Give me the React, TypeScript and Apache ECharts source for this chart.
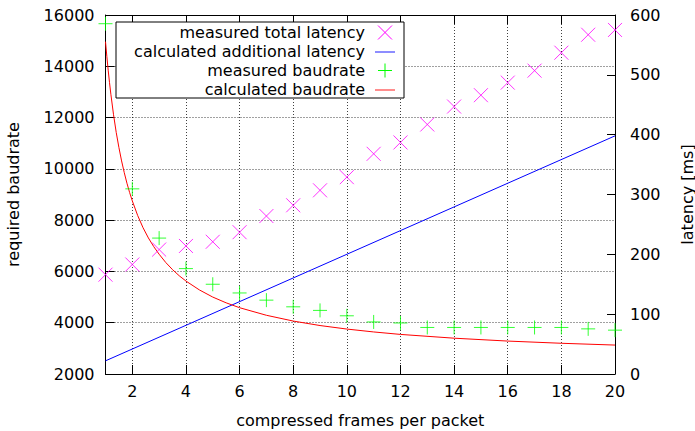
import React, { useEffect, useRef } from "react";
import * as echarts from "echarts";

const xTickValues = [2, 4, 6, 8, 10, 12, 14, 16, 18, 20];
const frames = [1, 2, 3, 4, 5, 6, 7, 8, 9, 10, 11, 12, 13, 14, 15, 16, 17, 18, 19, 20];
const measuredLatency = [166, 183, 208, 214, 221, 237, 264, 282, 307, 329, 368, 387, 417, 447, 466, 487, 507, 537, 567, 575];
const measuredBaudrate = [15660, 9220, 7300, 6110, 5500, 5160, 4880, 4620, 4480, 4270, 4030, 3990, 3815, 3815, 3815, 3815, 3815, 3815, 3760, 3710];
const calcLatencyX = [1, 20];
const calcLatency = [22, 398];
const calcBaudX = [1, 1.05, 1.1, 1.15, 1.2, 1.3, 1.4, 1.5, 1.6, 1.7, 1.8, 1.9, 2, 2.2, 2.4, 2.6, 2.8, 3, 3.25, 3.5, 3.75, 4, 4.5, 5, 5.5, 6, 7, 8, 9, 10, 11, 12, 14, 16, 18, 20];
const calcBaud = [14960, 14390, 13850, 13360, 12910, 12110, 11420, 10830, 10310, 9850, 9440, 9075, 8750, 8180, 7705, 7305, 6965, 6670, 6345, 6070, 5830, 5625, 5280, 5000, 4775, 4585, 4290, 4065, 3890, 3753, 3640, 3544, 3396, 3284, 3198, 3128];

const legendNames = [
  "measured total latency",
  "calculated additional latency",
  "measured baudrate",
  "calculated baudrate",
];

const MAGENTA = "#ff00ff";
const BLUE = "#0000ff";
const GREEN = "#00ff00";
const RED = "#ff0000";
const FONT = "DejaVu Sans";

const X_PATH = "path://M0,0L10,10M10,0L0,10";
const PLUS_PATH = "path://M0,5L10,5M5,0L5,10";

export default function App() {
  const ref = useRef<HTMLDivElement>(null);

  useEffect(() => {
    if (!ref.current) return;
    const chart = echarts.init(ref.current, undefined, { renderer: "svg" });

    const gridLine = { show: true, lineStyle: { color: "#000", opacity: 0.75, width: 1, type: [1, 2] as any } };
    const axisLine = { show: true, lineStyle: { color: "#000", width: 1 } };

    const legX = 116, legY = 22, legW = 288, legH = 76;
    const rowY = [32.5, 51.5, 70.5, 89.5];
    const lineRowY = [32, 52, 71, 90];
    const textRight = 365;
    const iconL = 375, iconR = 395, iconC = 385, half = 7;

    const graphics: any[] = [
      {
        type: "rect",
        z: 100,
        shape: { x: legX, y: legY, width: legW, height: legH },
        style: { fill: "#fff", stroke: "#000", lineWidth: 1 },
      },
    ];
    legendNames.forEach((name, i) => {
      graphics.push({
        type: "text",
        z: 101,
        x: textRight,
        y: rowY[i],
        style: { text: name, font: `16px "${FONT}"`, fill: "#000", align: "right", verticalAlign: "middle" },
      });
    });
    graphics.push(
      { type: "line", z: 101, shape: { x1: iconC - half, y1: rowY[0] - half, x2: iconC + half, y2: rowY[0] + half }, style: { stroke: MAGENTA, lineWidth: 1 } },
      { type: "line", z: 101, shape: { x1: iconC - half, y1: rowY[0] + half, x2: iconC + half, y2: rowY[0] - half }, style: { stroke: MAGENTA, lineWidth: 1 } },
      { type: "line", z: 101, shape: { x1: iconL, y1: lineRowY[1], x2: iconR, y2: lineRowY[1] }, style: { stroke: BLUE, lineWidth: 1.5, opacity: 0.6 } },
      { type: "line", z: 101, shape: { x1: iconC - half, y1: rowY[2], x2: iconC + half, y2: rowY[2] }, style: { stroke: GREEN, lineWidth: 1 } },
      { type: "line", z: 101, shape: { x1: iconC, y1: rowY[2] - half, x2: iconC, y2: rowY[2] + half }, style: { stroke: GREEN, lineWidth: 1 } },
      { type: "line", z: 101, shape: { x1: iconL, y1: lineRowY[3], x2: iconR, y2: lineRowY[3] }, style: { stroke: RED, lineWidth: 1.5, opacity: 0.6 } }
    );

    chart.setOption({
      animation: false,
      backgroundColor: "#fff",
      textStyle: { fontFamily: FONT, fontSize: 16, color: "#000" },
      grid: { left: 105.5, right: 80, top: 15, bottom: 57, outerBoundsMode: "none", containLabel: false },
      xAxis: [
        {
          type: "value",
          min: 1,
          max: 20,
          position: "bottom",
          name: "compressed frames per packet",
          nameLocation: "middle",
          nameGap: 38,
          nameTextStyle: { fontFamily: FONT, fontSize: 16, color: "#000" },
          axisLine,
          axisTick: { show: true, inside: true, length: 9, customValues: xTickValues, lineStyle: { color: "#000" } },
          axisLabel: { customValues: xTickValues, margin: 9, fontFamily: FONT, fontSize: 16, color: "#000" },
          splitLine: gridLine,
        },
        {
          type: "value",
          min: 1,
          max: 20,
          position: "top",
          axisLine,
          axisTick: { show: true, inside: true, length: 9, customValues: xTickValues, lineStyle: { color: "#000" } },
          axisLabel: { show: false, customValues: xTickValues },
          splitLine: { show: false },
        },
      ],
      yAxis: [
        {
          type: "value",
          min: 2000,
          max: 16000,
          interval: 2000,
          position: "left",
          name: "required baudrate",
          nameLocation: "middle",
          nameGap: 84,
          nameTextStyle: { fontFamily: FONT, fontSize: 16, color: "#000" },
          axisLine,
          axisTick: { show: true, inside: true, length: 9, lineStyle: { color: "#000" } },
          axisLabel: { margin: 11, fontFamily: FONT, fontSize: 16, color: "#000", formatter: (v: number) => String(v) },
          splitLine: gridLine,
        },
        {
          type: "value",
          min: 0,
          max: 600,
          interval: 100,
          position: "right",
          name: "latency [ms]",
          nameLocation: "middle",
          nameGap: 64,
          nameTextStyle: { fontFamily: FONT, fontSize: 16, color: "#000" },
          axisLine,
          axisTick: { show: true, inside: true, length: 8, lineStyle: { color: "#000" } },
          axisLabel: { margin: 15, fontFamily: FONT, fontSize: 16, color: "#000", formatter: (v: number) => String(v) },
          splitLine: { show: false },
        },
      ],
      graphic: graphics,
      series: [
        {
          name: legendNames[0],
          type: "scatter",
          yAxisIndex: 1,
          symbol: X_PATH,
          symbolSize: 14,
          itemStyle: { color: MAGENTA, borderColor: MAGENTA, borderWidth: 1 },
          data: frames.map((f, i) => [f, measuredLatency[i]]),
          z: 5,
        },
        {
          name: legendNames[1],
          type: "line",
          yAxisIndex: 1,
          showSymbol: false,
          lineStyle: { color: BLUE, width: 1 },
          itemStyle: { color: BLUE },
          data: calcLatencyX.map((f, i) => [f, calcLatency[i]]),
          z: 3,
        },
        {
          name: legendNames[2],
          type: "scatter",
          yAxisIndex: 0,
          symbol: PLUS_PATH,
          symbolSize: 14,
          itemStyle: { color: GREEN, borderColor: GREEN, borderWidth: 1 },
          data: frames.map((f, i) => [f, measuredBaudrate[i]]),
          z: 5,
        },
        {
          name: legendNames[3],
          type: "line",
          yAxisIndex: 0,
          showSymbol: false,
          smooth: false,
          lineStyle: { color: RED, width: 1 },
          itemStyle: { color: RED },
          data: calcBaudX.map((f, i) => [f, calcBaud[i]]),
          z: 3,
        },
      ],
    });

    return () => chart.dispose();
  }, []);

  return (
    <div
      ref={ref}
      style={{ position: "fixed", left: 0, top: 0, width: 695, height: 431, background: "#fff" }}
    />
  );
}
